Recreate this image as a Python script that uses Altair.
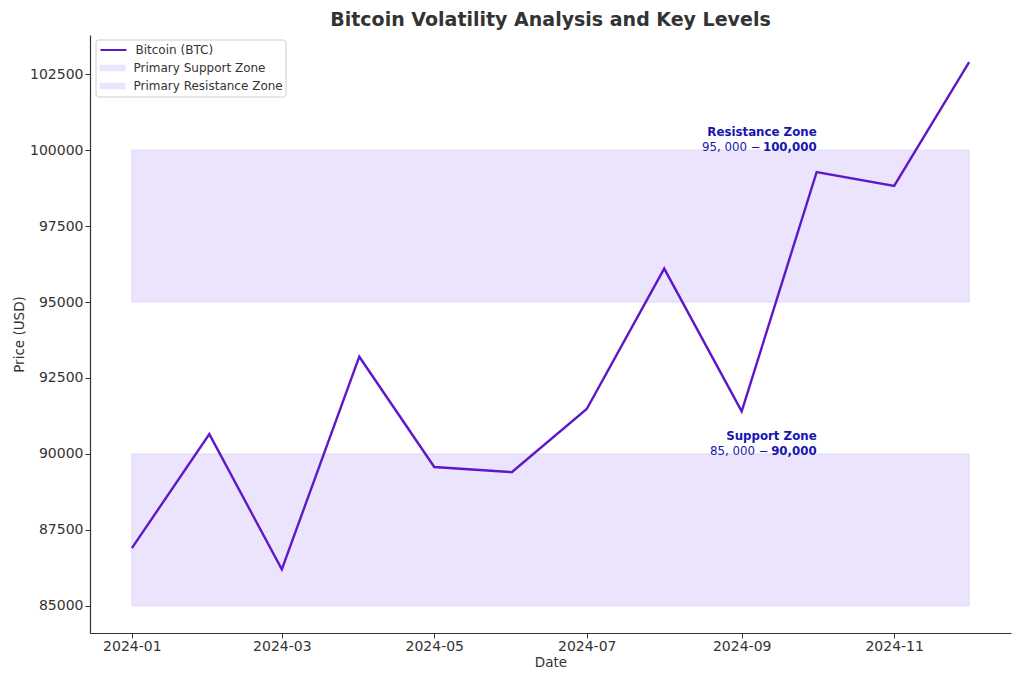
import altair as alt
import pandas as pd

# ---- data ----
dates = ["2024-01-01", "2024-02-01", "2024-03-01", "2024-04-01", "2024-05-01", "2024-06-01",
         "2024-07-01", "2024-08-01", "2024-09-01", "2024-10-01", "2024-11-01", "2024-12-01"]
prices = [86900, 90650, 86200, 93200, 89570, 89400, 91480, 96100, 91400, 99280, 98820, 102900]

zone_names = ["Primary Support Zone", "Primary Resistance Zone"]
zone_low = [85000, 95000]
zone_high = [90000, 100000]
zone_start = ["2024-01-01", "2024-01-01"]
zone_end = ["2024-12-01", "2024-12-01"]

label_titles = ["Support Zone", "Resistance Zone"]
label_low_text = ["85, 000 \u2212", "95, 000 \u2212"]
label_high_text = ["90,000", "100,000"]
label_date = ["2024-10-01", "2024-10-01"]
label_y = [90000, 100000]

x_ticks = ["2024-01-01", "2024-03-01", "2024-05-01", "2024-07-01", "2024-09-01", "2024-11-01"]
y_ticks = [85000, 87500, 90000, 92500, 95000, 97500, 100000, 102500]

LINE_C = "#5f18c9"
ZONE_C = "#ebe4fc"
TEXT_C = "#1515b0"
FONT = "DejaVu Sans"

line_df = pd.DataFrame({"date": dates, "price": prices, "series": "Bitcoin (BTC)"})
zone_df = pd.DataFrame({"series": zone_names, "low": zone_low, "high": zone_high,
                        "start": zone_start, "end": zone_end})
lab_df = pd.DataFrame({"title": label_titles, "lo": label_low_text, "hi": label_high_text,
                       "date": label_date, "y": label_y})

x_scale = alt.Scale(type="utc",
                    domain=[alt.DateTime(year=2023, month=12, date=15, hours=6, utc=True),
                            alt.DateTime(year=2024, month=12, date=17, hours=18, utc=True)])
y_scale = alt.Scale(domain=[84105, 103790], nice=False, zero=False)

common_legend = dict(title=None, orient="none", padding=0, labelFont=FONT, labelFontSize=12,
                     labelColor="#333333", rowPadding=5, symbolSize=169, labelOffset=14.5,
                     legendX=16)

line_legend = alt.Legend(symbolType="M-2,0L2,0", symbolStrokeWidth=2, legendY=7.5, **common_legend)
zone_legend = alt.Legend(symbolType="M-2,-0.5L2,-0.5L2,0.5L-2,0.5Z", symbolStrokeWidth=0,
                         legendY=26.5, **common_legend)

x_enc_axis = alt.Axis(title="Date",
                      values=[alt.DateTime(year=int(d[:4]), month=int(d[5:7]), date=1, utc=True) for d in x_ticks],
                      format="%Y-%m", grid=False)
y_enc_axis = alt.Axis(title="Price (USD)", values=y_ticks, format="d", grid=False)

zones = alt.Chart(zone_df).mark_rect(stroke="#ddd3f5", strokeWidth=0.8, opacity=1).encode(
    x=alt.X("start:T", scale=x_scale, axis=x_enc_axis),
    x2="end:T",
    y=alt.Y("low:Q", scale=y_scale, axis=y_enc_axis),
    y2="high:Q",
    fill=alt.Fill("series:N", scale=alt.Scale(domain=zone_names, range=[ZONE_C, ZONE_C]),
                  legend=zone_legend),
)

line = alt.Chart(line_df).mark_line(strokeWidth=2.4).encode(
    x=alt.X("date:T", scale=x_scale),
    y=alt.Y("price:Q", scale=y_scale),
    color=alt.Color("series:N", scale=alt.Scale(domain=["Bitcoin (BTC)"], range=[LINE_C]),
                    legend=line_legend),
)

# legend frame
frame = alt.Chart(pd.DataFrame({"k": [0]})).mark_rect(
    fill="white", stroke="#cccccc", strokeWidth=1, cornerRadius=3).encode(
    x=alt.value(6), x2=alt.value(196), y=alt.value(5), y2=alt.value(62))

TXT = dict(align="right", baseline="bottom", font=FONT, fontSize=11.8, color=TEXT_C)

t_title = alt.Chart(lab_df).mark_text(dy=-12, fontWeight="bold", **TXT).encode(
    x=alt.X("date:T", scale=x_scale), y=alt.Y("y:Q", scale=y_scale), text="title:N")
t_hi = alt.Chart(lab_df).mark_text(dy=3, fontWeight="bold", **TXT).encode(
    x=alt.X("date:T", scale=x_scale), y=alt.Y("y:Q", scale=y_scale), text="hi:N")
t_lo_sup = alt.Chart(lab_df).transform_filter("datum.y == 90000").mark_text(
    dy=3, dx=-48, **TXT).encode(
    x=alt.X("date:T", scale=x_scale), y=alt.Y("y:Q", scale=y_scale), text="lo:N")
t_lo_res = alt.Chart(lab_df).transform_filter("datum.y == 100000").mark_text(
    dy=3, dx=-56, **TXT).encode(
    x=alt.X("date:T", scale=x_scale), y=alt.Y("y:Q", scale=y_scale), text="lo:N")

chart = alt.layer(zones, line, frame, t_title, t_hi, t_lo_sup, t_lo_res).resolve_scale(
    color="independent", fill="independent"
).properties(
    width=921, height=598,
    title=alt.TitleParams("Bitcoin Volatility Analysis and Key Levels", font=FONT, fontSize=19,
                          fontWeight="bold", color="#333333", anchor="middle", offset=5),
    autosize=alt.AutoSizeParams(type="none"),
    padding={"left": 82, "top": 27, "right": 5, "bottom": 42},
).configure_view(stroke=None).configure_axis(
    labelFont=FONT, titleFont=FONT, labelFontSize=14, titleFontSize=13.5,
    labelColor="#333333", titleColor="#333333", titleFontWeight="normal",
    domainColor="#333333", tickColor="#333333", tickSize=5, domainWidth=1.2,
).configure_axisY(titlePadding=3, labelPadding=2).configure_axisX(titlePadding=2, labelPadding=1)

chart.save("out.html", embed_options={"renderer": "svg", "actions": False})
